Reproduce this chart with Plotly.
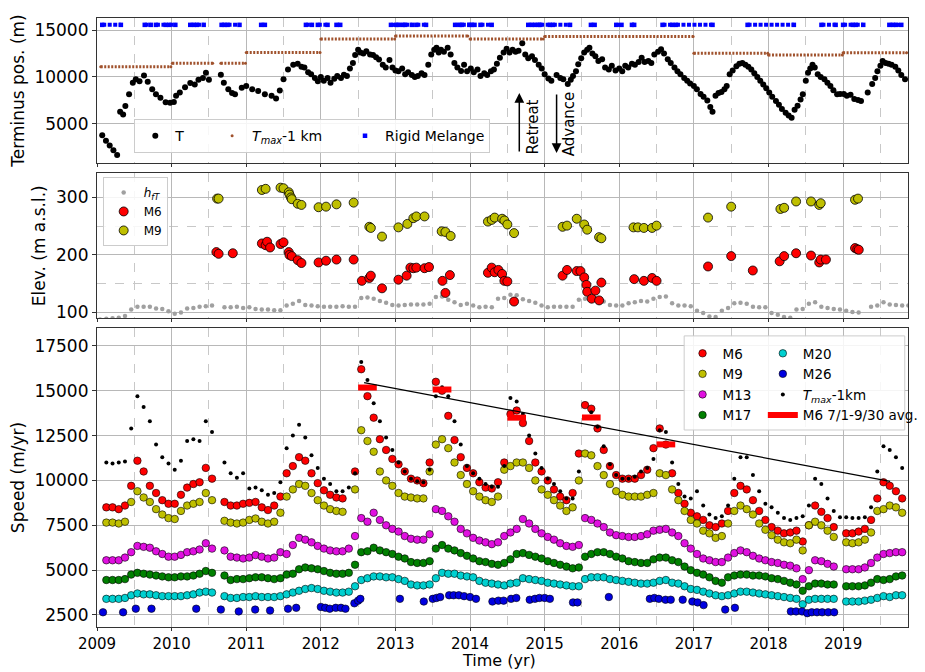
import plotly.graph_objects as go

# ---------------- data ----------------
# monthly samples (mid-month), Jan 2009 .. Nov 2019
months = [y + (m - 0.5) / 12 for y in range(2009, 2020) for m in range(1, 13)][:131]

# --- top panel: terminus position (m)
t_T = [2009.07, 2009.12, 2009.17, 2009.22, 2009.27, 2009.31, 2009.35, 2009.38, 2009.43, 2009.48,
       2009.52, 2009.57, 2009.63, 2009.68, 2009.74, 2009.79, 2009.85, 2009.92, 2009.98, 2010.03,
       2010.06, 2010.11, 2010.18, 2010.25, 2010.31, 2010.36, 2010.42, 2010.46, 2010.5, 2010.66,
       2010.7, 2010.76, 2010.81, 2010.85, 2010.94, 2011.0, 2011.08, 2011.16, 2011.25, 2011.34,
       2011.4, 2011.45, 2011.5, 2011.56, 2011.63, 2011.69, 2011.74, 2011.78, 2011.83, 2011.87,
       2011.92, 2011.96, 2012.0, 2012.04, 2012.09, 2012.13, 2012.18, 2012.22, 2012.27, 2012.31,
       2012.35, 2012.39, 2012.43, 2012.46, 2012.5, 2012.53, 2012.57, 2012.61, 2012.66, 2012.7,
       2012.74, 2012.78, 2012.83, 2012.87, 2012.92, 2012.96, 2013.0, 2013.04, 2013.09, 2013.13,
       2013.17, 2013.22, 2013.26, 2013.3, 2013.35, 2013.39, 2013.44, 2013.48, 2013.52, 2013.55,
       2013.58, 2013.61, 2013.65, 2013.7, 2013.74, 2013.79, 2013.83, 2013.88, 2013.92, 2013.96,
       2014.01, 2014.05, 2014.1, 2014.14, 2014.19, 2014.23, 2014.28, 2014.32, 2014.36, 2014.4,
       2014.45, 2014.49, 2014.53, 2014.57, 2014.61, 2014.65, 2014.7, 2014.74, 2014.78, 2014.83,
       2014.87, 2014.92, 2014.96, 2015.0, 2015.05, 2015.09, 2015.16, 2015.21, 2015.25, 2015.31,
       2015.35, 2015.38, 2015.42, 2015.45, 2015.49, 2015.53, 2015.57, 2015.6, 2015.64, 2015.68,
       2015.72, 2015.77, 2015.81, 2015.86, 2015.9, 2015.95, 2016.0, 2016.04, 2016.08, 2016.12,
       2016.17, 2016.21, 2016.26, 2016.3, 2016.34, 2016.39, 2016.43, 2016.47, 2016.52, 2016.56,
       2016.6, 2016.65, 2016.69, 2016.74, 2016.78, 2016.82, 2016.87, 2016.91, 2016.95, 2017.0,
       2017.04, 2017.09, 2017.13, 2017.18, 2017.22, 2017.25, 2017.29, 2017.33, 2017.37, 2017.41,
       2017.44, 2017.48, 2017.52, 2017.57, 2017.61, 2017.65, 2017.69, 2017.73, 2017.77, 2017.81,
       2017.85, 2017.89, 2017.93, 2017.97, 2018.01, 2018.05, 2018.1, 2018.14, 2018.18, 2018.23,
       2018.27, 2018.31, 2018.35, 2018.39, 2018.43, 2018.46, 2018.5, 2018.53, 2018.56, 2018.59,
       2018.62, 2018.66, 2018.7, 2018.75, 2018.79, 2018.83, 2018.87, 2018.92, 2018.96, 2019.01,
       2019.05, 2019.1, 2019.15, 2019.2, 2019.24, 2019.33, 2019.39, 2019.43, 2019.46, 2019.5,
       2019.53, 2019.57, 2019.61, 2019.65, 2019.7, 2019.74, 2019.78, 2019.83]
v_T = [3800, 3200, 2700, 2200, 1700, 6300, 6000, 6900, 8150, 9400,
       9750, 9550, 10150, 9500, 8700, 8150, 7800, 7300, 7250, 7350,
       8000, 8350, 8900, 9350, 9200, 9700, 9900, 10450, 9700, 10250,
       9400, 8700, 8300, 8150, 8850, 9050, 8700, 8500, 8150, 8000,
       7700, 8550, 9750, 10800, 11300, 11400, 11100, 11000, 10500, 10300,
       9900, 9550, 10000, 9600, 9900, 9400, 9800, 10100, 9900, 10250,
       10100, 10900, 11500, 12350, 12900, 12600, 12500, 12750, 12400, 12350,
       12100, 11850, 11300, 11000, 11800, 11000, 10700, 10600, 10900, 10300,
       10500, 10200, 10000, 10100, 10400, 10200, 11300, 12400, 12900, 13100,
       12600, 12900, 12700, 13100, 12400, 11500, 11000, 10650, 11300, 10600,
       10900, 10500, 10800, 10100, 10400, 10200, 10600, 10800, 11400, 12050,
       12600, 13000, 12600, 12900, 12700, 12800, 13600, 12400, 12000, 12200,
       11800, 11300, 10900, 10300, 9850, 9600, 10200, 9900, 9750, 9250,
       9700, 10100, 10600, 11350, 12000, 12600, 12900, 13100, 12500, 12200,
       11700, 11900, 11000, 10800, 11200, 10700, 10900, 10600, 11200, 11000,
       11400, 11300, 11600, 12050, 11600, 11700, 11500, 12400, 12700, 12950,
       12500, 11900, 11500, 11000, 10600, 10300, 9900, 9600, 9300, 9050,
       8700, 8200, 7900, 7500, 6800, 6300, 8000, 8300, 8400, 8700,
       9050, 10300, 10700, 11150, 11400, 11500, 11300, 11100, 10800, 10400,
       10000, 9600, 9200, 8800, 8350, 7900, 7450, 7050, 6600, 6200,
       5900, 5650, 6500, 6950, 7600, 8150, 9600, 10450, 10900, 11300,
       11000, 10300, 10000, 9750, 9400, 9050, 8600, 8150, 8200, 8200,
       8000, 8100, 7650, 7550, 7450, 8350, 9250, 9900, 10600, 11200,
       11700, 11500, 11400, 11300, 11100, 10700, 10200, 9750]

# T_max - 1 km, one level per period
tmax_start = [2009.05, 2010.01, 2010.66, 2011.0, 2012.0, 2013.0, 2014.0, 2015.0, 2017.0, 2018.0, 2019.0]
tmax_end = [2009.99, 2010.55, 2010.99, 2011.99, 2012.99, 2013.97, 2014.98, 2016.99, 2017.99, 2018.99, 2019.85]
tmax_level = [11100, 11450, 11450, 12620, 14040, 14360, 14040, 14300, 12520, 12340, 12590]

# rigid melange periods
rm_start = [2009.07, 2009.64, 2009.79, 2009.97, 2010.25, 2010.34, 2010.67, 2010.75, 2011.2, 2011.8,
            2011.96, 2012.21, 2012.94, 2013.04, 2013.13, 2013.28, 2013.8, 2013.89, 2014.02, 2014.14,
            2014.78, 2014.87, 2014.94, 2015.11, 2015.62, 2015.96, 2016.17, 2016.58, 2016.76, 2017.72,
            2018.71, 2019.0, 2019.17, 2019.62, 2019.71]
rm_end = [2009.32, 2009.72, 2009.92, 2010.05, 2010.3, 2010.43, 2010.71, 2010.91, 2011.25, 2011.88,
          2012.09, 2012.26, 2013.01, 2013.1, 2013.22, 2013.41, 2013.86, 2013.99, 2014.06, 2014.29,
          2014.83, 2014.92, 2015.07, 2015.34, 2015.67, 2016.03, 2016.2, 2016.71, 2017.25, 2018.34,
          2018.9, 2019.13, 2019.27, 2019.67, 2019.78]
rm_level = 15550

# --- middle panel: elevation (m a.s.l.)
hft = [88, 89, 90, 91, 94, 105, 110, 110, 110, 107, 106, 102,
       98, 100, 107, 108, 110, 111, 112, None, 109, 109, 110, 108,
       109, 106, 105, 105, 104, 104, 112, 115, 120, 113, 112, 111,
       110, 110, 110, 111, 110, 110, 125, 126, 124, 120, 117, 113,
       112, 113, 114, 114, 114, 115, 127, 128, 122, 118, 113, 115,
       112, 109, 110, 109, 124, 125, 131, 130, 123, 120, 117, 112,
       109, 110, 110, 110, 110, 122, 124, 126, 120, 119, 113, 112,
       112, 116, 118, 120, 119, 124, 127, 128, 116, 112, 112, 111,
       103, 99, 93, 92, 103, 108, 116, 117, 115, 110, 109, 109,
       99, 96, 92, 91, 105, 106, 115, 118, 110, 108, 106, 105,
       103, 101, 100, None, 110, 112, 118, 114, 113, 112, 112]

m6_elev_t = [2010.6, 2010.63, 2010.82, 2011.21, 2011.26, 2011.28, 2011.32, 2011.46, 2011.5, 2011.57,
             2011.58, 2011.61, 2011.69, 2011.74, 2011.97, 2012.07, 2012.21, 2012.44, 2012.55, 2012.65,
             2012.67, 2012.82, 2013.04, 2013.15, 2013.2, 2013.24, 2013.28, 2013.39, 2013.45, 2013.63,
             2013.67, 2013.73, 2014.24, 2014.29, 2014.33, 2014.38, 2014.43, 2014.46, 2014.5, 2014.59,
             2015.24, 2015.3, 2015.43, 2015.48, 2015.53, 2015.56, 2015.57, 2015.63, 2015.68, 2015.73,
             2015.76, 2016.2, 2016.33, 2016.44, 2016.5, 2017.19, 2017.5, 2017.79, 2018.15, 2018.21,
             2018.37, 2018.57, 2018.68, 2018.7, 2018.77, 2019.16, 2019.19, 2019.21]
m6_elev = [205, 202, 203, 220, 217, 223, 213, 219, 222, 205,
           200, 198, 191, 186, 187, 190, 192, 192, 155, 160,
           164, 142, 157, 164, 178, 177, 178, 177, 179, 155,
           134, 165, 169, 178, 170, 174, 167, 155, 154, 119,
           164, 174, 172, 172, 161, 148, 136, 124, 138, 121,
           152, 158, 155, 160, 155, 180, 198, 173, 189, 198,
           203, 199, 187, 192, 192, 212, 210, 209]

m9_elev_t = [2010.61, 2010.63, 2011.21, 2011.26, 2011.46, 2011.5, 2011.57, 2011.58, 2011.6, 2011.61,
             2011.69, 2011.74, 2011.97, 2012.07, 2012.21, 2012.44, 2012.65, 2012.67, 2012.82, 2013.04,
             2013.16, 2013.24, 2013.28, 2013.39, 2013.62, 2013.67, 2013.74, 2014.24, 2014.29, 2014.33,
             2014.43, 2014.46, 2014.5, 2014.59, 2015.24, 2015.3, 2015.43, 2015.53, 2015.57, 2015.73,
             2015.76, 2016.19, 2016.25, 2016.33, 2016.44, 2016.5, 2017.19, 2017.5, 2018.16, 2018.21,
             2018.37, 2018.57, 2018.68, 2018.7, 2019.16, 2019.2]
m9_elev = [298, 298, 313, 315, 317, 316, 309, 305, 300, 297,
           289, 287, 283, 284, 288, 291, 249, 247, 232, 248,
           254, 264, 267, 267, 241, 240, 233, 258, 261, 265,
           263, 260, 253, 238, 249, 251, 263, 253, 244, 231,
           229, 248, 248, 247, 247, 251, 265, 284, 280, 282,
           293, 293, 287, 290, 296, 298]

# --- bottom panel: speed (m/yr), monthly
m6 = [None, 8500, 8500, 8400, 8600, 9700, 11100, 10500, 9700, 9300, 8900, 8700,
      8700, 9200, 9600, 9800, 9900, 10700, 10100, None, 8800, 8600, 8600, 8700,
      8750, 8800, 8500, 8350, 8600, 9100, 10400, 10800, 11300, 11100, 10400, 9850,
      9450, 9200, 9050, 9000, None, 10500, 16200, 14700, 13500, 12300, 11700, 11200,
      10900, 10500, 10100, 10000, 9850, 11000, 15500, 15000, 13600, 12250, 11300, 10700,
      10400, 9900, 9600, 9550, 9900, 11000, 13700, 13900, 13200, 12200, 11000, 10500,
      10000, 9500, 9100, 8900, 9300, 11500, 14200, 14000, 12900, 11700, 10800, 10300,
      10100, 10100, 10100, 10300, 10600, 11800, 12900, 12000, 10400, 9300, 8700, 8200,
      8000, 7800, 7500, 7400, 7600, 8300, 9300, 9700, 9500, 8900, 8300, 7800,
      7400, 7200, 7050, 7100, 7200, 6600, 7500, 8600, 8250, 7900, 7400, None,
      7050, 7050, 7150, 7300, 7800, 9000, 9900, 9700, 9400, 9000, None]
m9 = [None, 7650, 7650, 7600, 7700, 8800, 9400, 9050, 8800, 8400, 8100, 7900,
      7850, 8300, 8600, 8700, 8800, 9300, 8900, None, 7750, 7650, 7600, 7650,
      7800, 7880, 7700, 7600, 7700, 8200, 9100, 9500, 9800, 9700, 9300, 8900,
      8600, 8400, 8300, 8250, None, 9500, 12800, 12200, 11600, 10500, 10000, 9700,
      9300, 9100, 9050, 9000, 9000, 10500, 12000, 12300, 11800, 11000, 10300, 9800,
      9400, 9100, 8900, 8800, 9100, 10600, 10800, 11000, 11000, 10700, 10000, 9500,
      9200, 8900, 8600, 8300, 8500, 10000, 11500, 11400, 10800, 10300, 9800, 9400,
      9200, 9100, 9100, 9100, 9200, 9300, 10400, 10300, 9500, 8900, 8300, 7800,
      7600, 7200, 7050, 6800, 6900, 7600, 8300, 8600, 8400, 8100, 7600, 7250,
      6950, 6700, 6550, 6500, 6700, 6100, 7500, 7700, 7500, 7200, 6850, None,
      6550, 6500, 6550, 6700, 7100, 8300, 8400, 8600, 8500, 8200, None]
m13 = [None, 5550, 5550, 5550, 5700, 6000, 6350, 6300, 6250, 6050, 5900, 5750,
       5750, 5850, 6000, 6050, 6150, 6500, 6200, None, 6100, 5750, 5700, 5650,
       5700, 5840, 5750, 5650, 5700, 6000, 5900, 6400, 6800, 6700, 6550, 6350,
       6200, 6100, 6050, 6050, 6200, 6900, 7900, 7700, 8200, 7800, 7500, 7300,
       7150, 6900, 6750, 6700, 6700, 7000, 8400, 8300, 8000, 7700, 7300, 7050,
       6800, 6650, 6550, 6450, 6550, 6900, 7100, 7300, 7850, 7600, 7300, 7050,
       6850, 6700, 6500, 6350, 6300, 6400, 7900, 7800, 7600, 7400, 7100, 6950,
       6900, 6850, 6850, 6900, 7000, 7200, 7250, 7300, 7100, 6900, 6500, 6200,
       5900, 5650, 5550, 5450, 5450, 5700, 5950, 6100, 6000, 5800, 5650, 5550,
       5450, 5400, 5300, 5250, 5100, 4500, 5000, 5550, 5500, 5350, 5200, None,
       5050, 5050, 5050, 5150, 5400, 5700, 5900, 5950, 6000, 6000, None]
m17 = [None, 4450, 4450, 4450, 4500, 4750, 4850, 4800, 4750, 4700, 4650, 4600,
       4600, 4650, 4650, 4700, 4800, 4950, 4850, None, 4700, 4450, 4500, 4500,
       4550, 4600, 4600, 4550, 4500, 4550, 4750, 4800, 5050, 5150, 5100, 5050,
       4950, 4850, 4800, 4800, 4850, 5300, 6000, 6050, 6250, 6100, 6000, 5900,
       5750, 5650, 5450, 5400, 5400, 5500, 6200, 6400, 6200, 6100, 5950, 5800,
       5650, 5500, 5450, 5350, 5300, 5400, 5600, 5900, 5950, 5850, 5750, 5650,
       5500, 5400, 5300, 5200, 5100, 5150, 5750, 5900, 6000, 6000, 5900, 5750,
       5650, 5500, 5450, 5400, 5400, 5600, 5700, 5700, 5550, 5450, 5200, 5000,
       4850, 4750, 4600, 4400, 4300, 4600, 4700, 4750, 4750, 4700, 4700, 4650,
       4550, 4500, 4400, 4300, 4200, 3850, 4100, 4250, 4250, 4200, 4200, None,
       4100, 4100, 4100, 4150, 4300, 4500, 4450, 4500, 4650, 4700, None]
m20 = [None, 3400, 3400, 3400, 3450, 3600, 3700, 3650, 3650, 3600, 3550, 3550,
       3550, 3550, 3600, 3650, 3750, 3800, 3750, None, 3550, 3450, 3450, 3500,
       3500, 3550, 3500, 3500, 3500, 3550, 3650, 3750, 3850, 3950, 4000, 3950,
       3850, 3800, 3750, 3750, 3800, 4100, 4450, 4550, 4650, 4650, 4600, 4600,
       4500, 4400, 4200, 4150, 4150, 4200, 4550, 4850, 4800, 4800, 4700, 4650,
       4600, 4400, 4300, 4250, 4200, 4150, 4250, 4300, 4550, 4500, 4450, 4400,
       4300, 4250, 4200, 4150, 4100, 4100, 4500, 4600, 4600, 4600, 4500, 4450,
       4400, 4350, 4300, 4250, 4250, 4300, 4400, 4450, 4300, 4250, 4100, 3950,
       3900, 3800, 3700, 3600, 3550, 3600, 3700, 3800, 3800, 3750, 3700, 3650,
       3600, 3550, 3500, 3450, 3400, 3100, 3350, 3400, 3400, 3400, 3400, None,
       3250, 3250, 3250, 3300, 3350, 3450, 3550, 3500, 3600, 3600, None]
tmax_speed = [None, 11000, 10950, 11000, 11050, 12900, 14700, 14100, 13300, 12000, 11300, 10950,
              10600, 11100, 12200, 12300, 12200, 13300, 12700, None, 11000, 10400, 10150, 10400,
              9550, 9600, 9450, 9200, 9300, 9900, 11800, 12500, 13100, 12400, 11400, 10700,
              10100, 9800, 9400, 9400, 9600, 10400, 16600, 15600, 14300, 13300, 12400, 11700,
              11000, 10500, 10100, 9950, 9900, 10600, 14700, 15200, 14700, 13300, 12000, 10800,
              10400, 10100, 9800, 9650, 9650, 10800, 14600, 14400, 13700, 12500, 11500, 10700,
              10100, 9800, 9400, 9000, 9000, 10500, 13500, 13800, 13000, 11900, 10900, 10300,
              10100, 10100, 10200, 10500, 10700, 11200, 12800, 12700, 11000, 9800, 9100, 9000,
              9400, 8600, 8100, 7900, 8000, 8600, 10100, 11300, 11300, 10300, 9400, 8700,
              8500, 8200, 7900, 7800, 7900, 8000, 8600, 10100, 9800, 9000, 8300, 7950,
              7950, 7900, 7900, 7950, 8500, 10500, 11900, 11700, 11300, 10700, None]

m26_t = [2009.08, 2009.35, 2009.52, 2009.73, 2010.33, 2010.66, 2010.9, 2011.12, 2011.32, 2011.56,
         2011.67, 2012.0, 2012.06, 2012.12, 2012.2, 2012.27, 2012.33, 2012.45, 2012.5, 2012.53,
         2013.06, 2013.38, 2013.5, 2013.55, 2013.6, 2013.72, 2013.78, 2013.85, 2013.92, 2014.0,
         2014.08, 2014.3, 2014.38, 2014.45, 2014.55, 2014.62, 2014.8, 2014.87, 2014.93, 2015.0,
         2015.07, 2015.38, 2015.44, 2015.86, 2016.41, 2016.47, 2016.53, 2016.62, 2016.69, 2016.85,
         2016.98, 2017.05, 2017.13, 2017.42, 2017.55, 2018.3, 2018.37, 2018.45, 2018.52, 2018.58,
         2018.65, 2018.72, 2018.8, 2018.88]
m26 = [2650, 2650, 2850, 2850, 2850, 2800, 2700, 2800, 2750, 2850,
       2900, 2950, 2900, 2850, 2900, 2900, 2850, 3150, 3300, 3400,
       3400, 3250, 3400, 3450, 3500, 3600, 3600, 3600, 3550, 3500,
       3400, 3250, 3300, 3300, 3400, 3450, 3350, 3400, 3450, 3450,
       3400, 3200, 3200, 3500, 3400, 3450, 3400, 3350, 3350, 3350,
       3250, 3200, 3050, 2800, 2900, 2700, 2700, 2700, 2600, 2650,
       2650, 2650, 2650, 2650]

# M6 mean speed over 7/1-9/30 of each year
avg_years = [2012, 2013, 2014, 2015, 2016]
avg_speed = [15180, 15070, 13500, 13510, 12010]

# trend line through summer peaks
trend_t = [2012.58, 2019.63]
trend_v = [15450, 9950]

# ---------------- figure ----------------
def segments(starts, ends, levels):
    xs, ys = [], []
    for s, e, lv in zip(starts, ends, levels):
        xs += [s, e, None]
        ys += [lv, lv, None]
    return xs, ys


fig = go.Figure()
edge = dict(color="black", width=0.6)
nb = "&nbsp;"

# top panel
fig.add_trace(go.Scatter(x=t_T, y=v_T, mode="markers", name="T" + nb * 5,
                         marker=dict(color="black", size=6), xaxis="x", yaxis="y", legend="legend"))
tx, ty = segments(tmax_start, tmax_end, tmax_level)
fig.add_trace(go.Scatter(x=tx, y=ty, mode="lines", line=dict(color="#a0522d", width=3, dash="2px,1.5px"),
                         showlegend=False, xaxis="x", yaxis="y"))
fig.add_trace(go.Scatter(x=tx, y=ty, mode="markers", name="<i>T</i><sub><i>max</i></sub>-1 km" + nb * 4,
                         marker=dict(color="#a0522d", size=3), xaxis="x", yaxis="y", legend="legend"))
rx, ry = segments(rm_start, rm_end, [rm_level] * len(rm_start))
fig.add_trace(go.Scatter(x=rx, y=ry, mode="lines", line=dict(color="#0000ff", width=4, dash="4px,1.5px"),
                         showlegend=False, xaxis="x", yaxis="y"))
fig.add_trace(go.Scatter(x=rx, y=ry, mode="markers", name="Rigid Melange",
                         marker=dict(color="#0000ff", size=4.5, symbol="square"),
                         xaxis="x", yaxis="y", legend="legend"))

# middle panel
fig.add_trace(go.Scatter(x=months, y=hft, mode="markers", name="<i>h</i><sub><i>fT</i></sub>",
                         marker=dict(color="#a0a0a0", size=4.5), xaxis="x2", yaxis="y2", legend="legend2"))
fig.add_trace(go.Scatter(x=m6_elev_t, y=m6_elev, mode="markers", name="M6",
                         marker=dict(color="#ff0000", size=9, line=dict(color="black", width=0.8)),
                         xaxis="x2", yaxis="y2", legend="legend2"))
fig.add_trace(go.Scatter(x=m9_elev_t, y=m9_elev, mode="markers", name="M9",
                         marker=dict(color="#bfbf00", size=9, line=dict(color="black", width=0.8)),
                         xaxis="x2", yaxis="y2", legend="legend2"))

# bottom panel
speed_series = [("M6", m6, "#ff0000", "legend3"), ("M9", m9, "#bfbf00", "legend3"),
                ("M13", m13, "#e010e0", "legend3"), ("M17", m17, "#008000", "legend3"),
                ("M20", m20, "#00d0d0", "legend4")]
for name, vals, col, lg in speed_series:
    fig.add_trace(go.Scatter(x=months, y=vals, mode="markers", name=name,
                             marker=dict(color=col, size=7.5, line=edge),
                             xaxis="x3", yaxis="y3", legend=lg))
fig.add_trace(go.Scatter(x=m26_t, y=m26, mode="markers", name="M26",
                         marker=dict(color="#0000e0", size=7.5, line=edge),
                         xaxis="x3", yaxis="y3", legend="legend4"))
fig.add_trace(go.Scatter(x=months, y=tmax_speed, mode="markers",
                         name="<i>T</i><sub><i>max</i></sub>-1km",
                         marker=dict(color="black", size=4), xaxis="x3", yaxis="y3", legend="legend4"))
ax_, ay_ = segments([y + 0.5 for y in avg_years], [y + 0.75 for y in avg_years], avg_speed)
fig.add_trace(go.Scatter(x=ax_, y=ay_, mode="lines", name="M6 7/1-9/30 avg.",
                         line=dict(color="#ff0000", width=6), xaxis="x3", yaxis="y3", legend="legend4"))
fig.add_trace(go.Scatter(x=trend_t, y=trend_v, mode="lines", line=dict(color="black", width=1.3),
                         showlegend=False, xaxis="x3", yaxis="y3"))

# ---------------- axes ----------------
years = list(range(2009, 2020))
half_years = [y + 0.5 for y in range(2009, 2020)]
axis_font = dict(family="DejaVu Sans", size=17, color="black")
tick_font = dict(family="DejaVu Sans", size=15, color="black")
xbase = dict(range=[2009, 2019.87], tickvals=years, ticks="outside", ticklen=3, tickcolor="#333",
             showline=True, mirror=True, linecolor="#333", linewidth=1.2,
             showgrid=True, gridcolor="#b8b8b8", gridwidth=1, zeroline=False,
             minor=dict(tickvals=half_years, showgrid=True, gridcolor="#c8c8c8",
                        griddash="dash", gridwidth=0.8, ticks=""),
             tickfont=tick_font)
ybase = dict(ticks="outside", ticklen=4, tickcolor="#333", showline=True, mirror=True,
             linecolor="#333", linewidth=1.2, showgrid=True, gridcolor="#b8b8b8", gridwidth=1,
             zeroline=False, tickformat="d", tickfont=axis_font)

# the page adds an 8px body margin, so the figure is 8px smaller and margins shifted
fig.update_layout(
    width=917, height=664,
    margin=dict(l=89, r=2, t=10, b=45),
    paper_bgcolor="white", plot_bgcolor="white",
    font=dict(family="DejaVu Sans", color="black"),
    xaxis=dict(xbase, anchor="y", showticklabels=False),
    xaxis2=dict(xbase, anchor="y2", showticklabels=False, matches="x"),
    xaxis3=dict(xbase, anchor="y3", matches="x"),
    yaxis=dict(ybase, domain=[0.762, 1.0], range=[850, 16280], tickvals=[5000, 10000, 15000],
               title=dict(text="Terminus pos. (m)", font=axis_font, standoff=6)),
    yaxis2=dict(ybase, domain=[0.507, 0.745], range=[90, 342], tickvals=[100, 200, 300],
                minor=dict(tickvals=[150, 250], showgrid=True, gridcolor="#c8c8c8",
                           griddash="dash", gridwidth=0.8, ticks=""),
                title=dict(text="Elev. (m a.s.l.)", font=axis_font, standoff=6)),
    yaxis3=dict(ybase, domain=[0.0, 0.491], range=[1830, 18500],
                tickvals=[2500, 5000, 7500, 10000, 12500, 15000, 17500],
                title=dict(text="Speed (m/yr)", font=axis_font, standoff=6)),
    legend=dict(x=0.046, y=0.778, xanchor="left", yanchor="bottom", orientation="h",
                font=dict(size=14), bgcolor="rgba(255,255,255,0.85)",
                bordercolor="#cccccc", borderwidth=1),
    legend2=dict(x=0.007, y=0.739, xanchor="left", yanchor="top",
                 font=dict(size=12), bgcolor="rgba(255,255,255,0.85)",
                 bordercolor="#cccccc", borderwidth=1, tracegroupgap=0),
    legend3=dict(x=0.722, y=0.4745, xanchor="left", yanchor="top",
                 font=dict(size=13.5), bgcolor="rgba(0,0,0,0)", borderwidth=0),
    legend4=dict(x=0.821, y=0.4745, xanchor="left", yanchor="top",
                 font=dict(size=13.5), bgcolor="rgba(0,0,0,0)", borderwidth=0),
    shapes=[dict(type="rect", xref="paper", yref="paper", x0=0.724, x1=0.996, y0=0.3235, y1=0.478,
                 line=dict(color="#cccccc", width=1), fillcolor="rgba(255,255,255,0.85)",
                 layer="above")],
    annotations=[
        dict(x=2014.66, y=8300, ax=2014.66, ay=1900, xref="x", yref="y", axref="x", ayref="y",
             text="", showarrow=True, arrowhead=2, arrowsize=1.3, arrowwidth=1.5, arrowcolor="black"),
        dict(x=2015.16, y=1900, ax=2015.16, ay=8300, xref="x", yref="y", axref="x", ayref="y",
             text="", showarrow=True, arrowhead=2, arrowsize=1.3, arrowwidth=1.5, arrowcolor="black"),
        dict(x=2014.84, y=4700, xref="x", yref="y", text="Retreat", textangle=-90,
             showarrow=False, font=dict(size=15)),
        dict(x=2015.33, y=5000, xref="x", yref="y", text="Advance", textangle=-90,
             showarrow=False, font=dict(size=15)),
        dict(x=0.496, y=-0.0745, xref="paper", yref="paper", text="Time (yr)", showarrow=False,
             yanchor="bottom", font=dict(family="DejaVu Sans", size=16, color="black")),
    ],
)

fig.write_html("out.html")
